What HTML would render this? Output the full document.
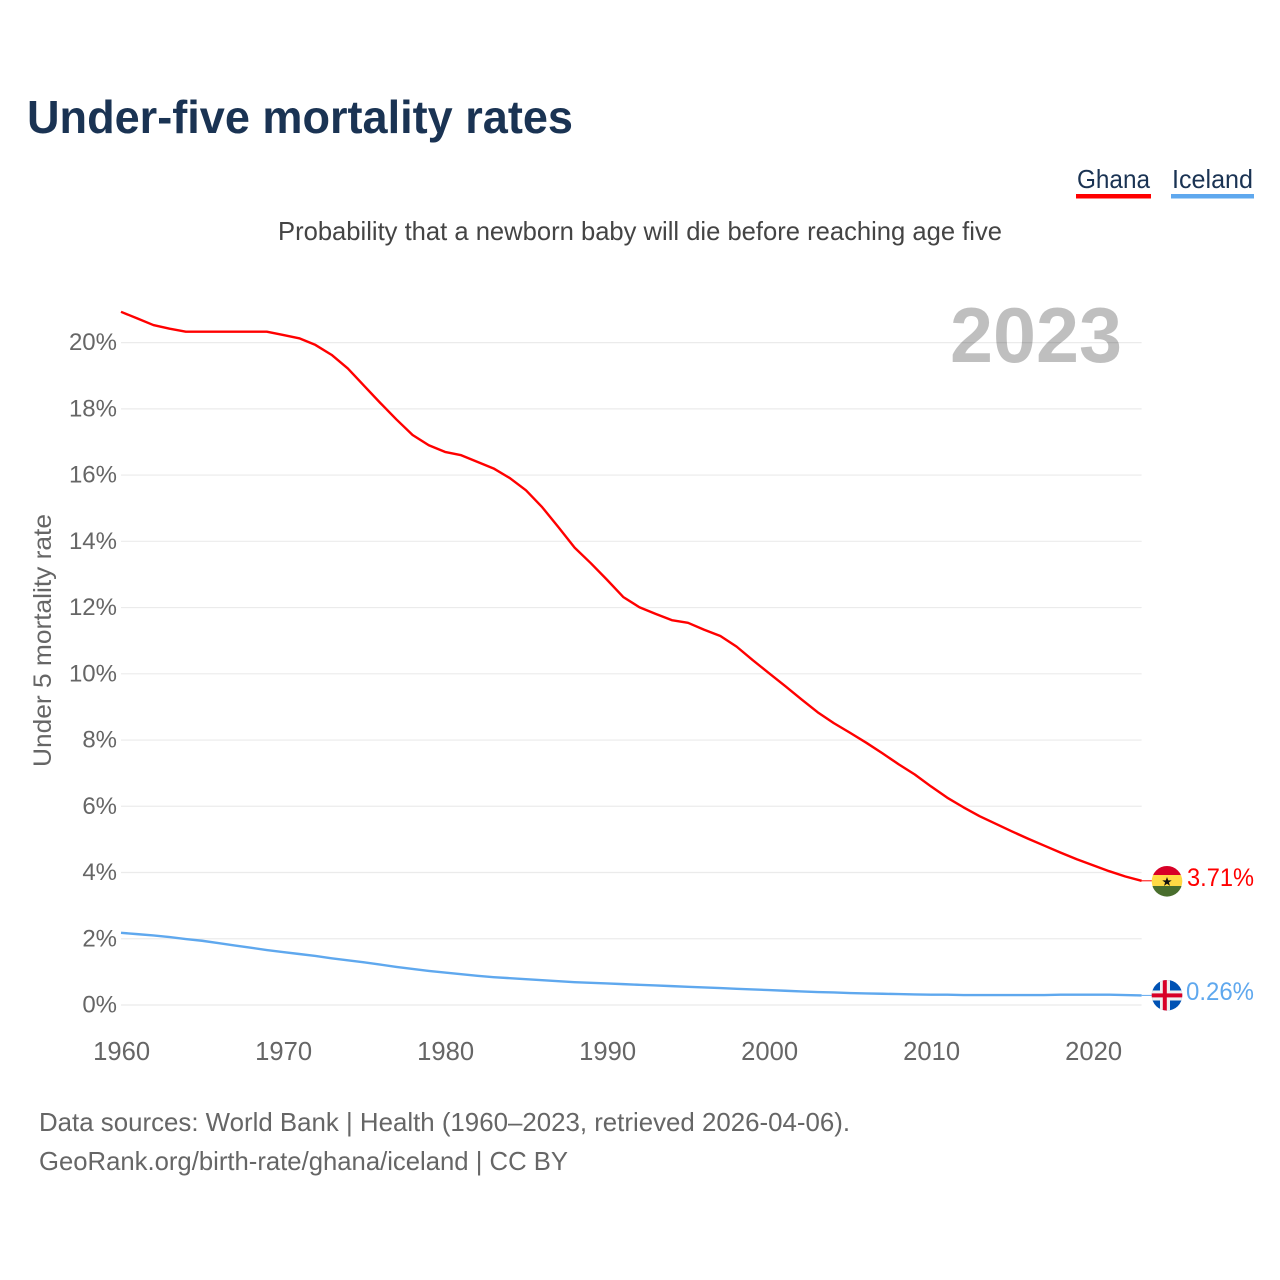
<!DOCTYPE html>
<html lang="en">
<head>
<meta charset="utf-8">
<title>Under-five mortality rates</title>
<style>
html,body{margin:0;padding:0;background:#fff;width:1280px;height:1280px;overflow:hidden}
svg{display:block}
text{font-family:"Liberation Sans",sans-serif}
</style>
</head>
<body>
<svg id="chart" xmlns="http://www.w3.org/2000/svg" width="1280" height="1280" viewBox="0 0 1280 1280">
  <defs>
    <clipPath id="clip-gh"><circle cx="1167" cy="881.3" r="15.3"/></clipPath>
    <clipPath id="clip-is"><circle cx="1167" cy="995.3" r="15.3"/></clipPath>
  </defs>
  <rect x="0" y="0" width="1280" height="1280" fill="#fff"/>
  <text x="27" y="133" font-size="46" font-weight="700" fill="#1a3353" textLength="546" lengthAdjust="spacingAndGlyphs">Under-five mortality rates</text>

  <g>
    <text x="1077" y="188" font-size="26" fill="#1a3353" textLength="73" lengthAdjust="spacingAndGlyphs">Ghana</text>
    <rect x="1076" y="194" width="75" height="4.5" fill="#ff0000"/>
  </g>
  <g>
    <text x="1172" y="188" font-size="26" fill="#1a3353" textLength="81" lengthAdjust="spacingAndGlyphs">Iceland</text>
    <rect x="1171" y="194" width="83" height="4.5" fill="#5fa8ee"/>
  </g>

  <text x="278" y="240" font-size="26" fill="#444" textLength="724" lengthAdjust="spacingAndGlyphs">Probability that a newborn baby will die before reaching age five</text>

  <g id="grid"></g>
  <text x="1122" y="362" text-anchor="end" font-size="78" font-weight="700" fill="#000" fill-opacity="0.25" textLength="172" lengthAdjust="spacingAndGlyphs">2023</text>
  <g id="yticks"></g>
  <g id="xticks"></g>
  <text transform="translate(51,767) rotate(-90)" font-size="25" fill="#666" textLength="253" lengthAdjust="spacingAndGlyphs">Under 5 mortality rate</text>

  <path id="line-ghana" fill="none" stroke="#ff0000" stroke-width="2.4" stroke-linejoin="round"/>
  <path id="line-iceland" fill="none" stroke="#5fa8ee" stroke-width="2.4" stroke-linejoin="round"/>
  <line id="lead-ghana" stroke="#ff0000" stroke-width="1"/>
  <line id="lead-iceland" stroke="#5fa8ee" stroke-width="1"/>

  <g clip-path="url(#clip-gh)">
    <rect x="1151" y="865" width="32" height="10.5" fill="#d80027"/>
    <rect x="1151" y="875" width="32" height="11.5" fill="#ffda44"/>
    <rect x="1151" y="886" width="32" height="12" fill="#496e2d"/>
    <polygon points="1167,877 1168.2,880.4 1171.7,880.4 1168.9,882.5 1170,885.9 1167,883.8 1164,885.9 1165.1,882.5 1162.3,880.4 1165.8,880.4" fill="#111"/>
  </g>
  <g clip-path="url(#clip-is)">
    <rect x="1151" y="979" width="32" height="33" fill="#0052b4"/>
    <rect x="1151" y="990.5" width="32" height="10" fill="#f0f0f0"/>
    <rect x="1160" y="979" width="10" height="33" fill="#f0f0f0"/>
    <rect x="1151" y="993.4" width="32" height="4" fill="#d80027"/>
    <rect x="1162.8" y="979" width="4" height="33" fill="#d80027"/>
  </g>
  <text id="value-ghana" x="1187" y="886" font-size="25" fill="#ff0000" textLength="67" lengthAdjust="spacingAndGlyphs">3.71%</text>
  <text id="value-iceland" x="1186" y="1000" font-size="25" fill="#5fa8ee" textLength="68" lengthAdjust="spacingAndGlyphs">0.26%</text>

  <text x="39" y="1131" font-size="26" fill="#666" textLength="811" lengthAdjust="spacingAndGlyphs">Data sources: World Bank | Health (1960–2023, retrieved 2026-04-06).</text>
  <text x="39" y="1170" font-size="26" fill="#666" textLength="529" lengthAdjust="spacingAndGlyphs">GeoRank.org/birth-rate/ghana/iceland | CC BY</text>
</svg>
<script>
const startYear = 1960;
const yearTicks = [1960, 1970, 1980, 1990, 2000, 2010, 2020];
const rateTicks = [0, 2, 4, 6, 8, 10, 12, 14, 16, 18, 20];
const ghanaRates = [
  20.93, 20.73, 20.53, 20.42, 20.33, 20.33, 20.33, 20.33, 20.33, 20.33,
  20.23, 20.13, 19.93, 19.63, 19.22, 18.7, 18.18, 17.68, 17.21, 16.9,
  16.7, 16.6, 16.4, 16.2, 15.91, 15.54, 15.03, 14.43, 13.81, 13.34,
  12.84, 12.32, 12.01, 11.81, 11.62, 11.54, 11.33, 11.14, 10.82, 10.41,
  10.02, 9.63, 9.23, 8.84, 8.51, 8.22, 7.92, 7.6, 7.27, 6.96,
  6.6, 6.26, 5.97, 5.7, 5.47, 5.24, 5.02, 4.81, 4.6, 4.4,
  4.22, 4.04, 3.88, 3.75
];
const icelandRates = [
  2.18, 2.14, 2.10, 2.05, 1.99, 1.94, 1.87, 1.80, 1.73, 1.66,
  1.60, 1.54, 1.48, 1.41, 1.35, 1.29, 1.22, 1.15, 1.09, 1.03,
  0.98, 0.93, 0.88, 0.84, 0.81, 0.78, 0.75, 0.72, 0.69, 0.67,
  0.65, 0.63, 0.61, 0.59, 0.57, 0.55, 0.53, 0.51, 0.49, 0.47,
  0.45, 0.43, 0.41, 0.39, 0.38, 0.36, 0.35, 0.34, 0.33, 0.32,
  0.31, 0.31, 0.30, 0.30, 0.30, 0.30, 0.30, 0.30, 0.31, 0.31,
  0.31, 0.31, 0.30, 0.29
];

const NS = 'http://www.w3.org/2000/svg';
function xScale(year) { return 121 + (year - 1960) * 16.2; }
function yScale(rate) { return 1005 - rate * 33.12; }
function linePath(values) {
  return values.map(function (v, i) {
    return (i ? 'L' : 'M') + xScale(startYear + i).toFixed(2) + ' ' + yScale(v).toFixed(2);
  }).join(' ');
}
function make(tag, attrs, text) {
  const el = document.createElementNS(NS, tag);
  Object.keys(attrs).forEach(function (k) { el.setAttribute(k, attrs[k]); });
  if (text !== undefined) el.textContent = text;
  return el;
}

const grid = document.getElementById('grid');
const yticks = document.getElementById('yticks');
const xticks = document.getElementById('xticks');

rateTicks.forEach(function (r) {
  const gridLine = make('line', { x1: 121, x2: 1141.6, y1: yScale(r), y2: yScale(r), stroke: '#ebebeb', 'stroke-width': 1.2 });
  
  
  grid.appendChild(gridLine);
  const yLabel = make('text', { x: 117, y: yScale(r) + 7.5, 'text-anchor': 'end', 'font-size': 24, fill: '#666' }, r + '%');
  
  
  yticks.appendChild(yLabel);
});

yearTicks.forEach(function (y) {
  const xLabel = make('text', { x: xScale(y) + 0.6, y: 1060, 'text-anchor': 'middle', 'font-size': 25.6, fill: '#666' }, String(y));
  
  
  xticks.appendChild(xLabel);
});

document.getElementById('line-ghana').setAttribute('d', linePath(ghanaRates));
document.getElementById('line-iceland').setAttribute('d', linePath(icelandRates));

const lastIndex = ghanaRates.length - 1;
function setLeader(id, value) {
  const lead = document.getElementById(id);
  lead.setAttribute('x1', xScale(startYear + lastIndex));
  lead.setAttribute('x2', 1152);
  lead.setAttribute('y1', yScale(value));
  lead.setAttribute('y2', yScale(value));
}
setLeader('lead-ghana', ghanaRates[lastIndex]);
setLeader('lead-iceland', icelandRates[lastIndex]);
</script>
</body>
</html>
